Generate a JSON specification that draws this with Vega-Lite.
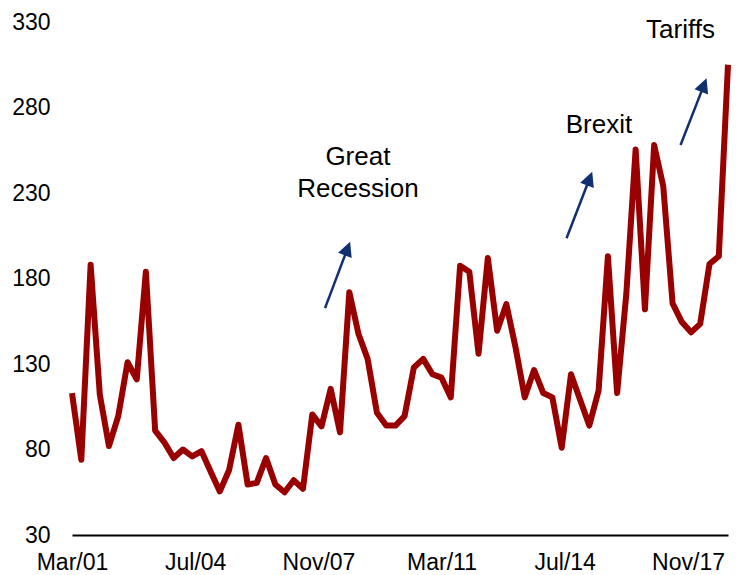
{
  "$schema": "https://vega.github.io/schema/vega-lite/v6.json",
  "autosize": {"type": "none"},
  "width": 656,
  "height": 513,
  "padding": {"left": 72, "top": 22, "right": 13, "bottom": 40},
  "background": "white",
  "config": {
    "view": {"stroke": null},
    "font": "Liberation Sans",
    "text": {"font": "Liberation Sans"}
  },
  "datasets": {
    "series": [
      {"date": "2001-03-01", "value": 113},
      {"date": "2001-06-01", "value": 74},
      {"date": "2001-09-01", "value": 188},
      {"date": "2001-12-01", "value": 112},
      {"date": "2002-03-01", "value": 82},
      {"date": "2002-06-01", "value": 99.5},
      {"date": "2002-09-01", "value": 131},
      {"date": "2002-12-01", "value": 121},
      {"date": "2003-03-01", "value": 184},
      {"date": "2003-06-01", "value": 91},
      {"date": "2003-09-01", "value": 84},
      {"date": "2003-12-01", "value": 75},
      {"date": "2004-03-01", "value": 80},
      {"date": "2004-06-01", "value": 76},
      {"date": "2004-09-01", "value": 79},
      {"date": "2004-12-01", "value": 67},
      {"date": "2005-03-01", "value": 55.5},
      {"date": "2005-06-01", "value": 68},
      {"date": "2005-09-01", "value": 94.5},
      {"date": "2005-12-01", "value": 59.5},
      {"date": "2006-03-01", "value": 60.5},
      {"date": "2006-06-01", "value": 75},
      {"date": "2006-09-01", "value": 59.5},
      {"date": "2006-12-01", "value": 55},
      {"date": "2007-03-01", "value": 62},
      {"date": "2007-06-01", "value": 57},
      {"date": "2007-09-01", "value": 100.5},
      {"date": "2007-12-01", "value": 93.5},
      {"date": "2008-03-01", "value": 115.5},
      {"date": "2008-06-01", "value": 90},
      {"date": "2008-09-01", "value": 172},
      {"date": "2008-12-01", "value": 147.5},
      {"date": "2009-03-01", "value": 133},
      {"date": "2009-06-01", "value": 101.5},
      {"date": "2009-09-01", "value": 94},
      {"date": "2009-12-01", "value": 94},
      {"date": "2010-03-01", "value": 99.5},
      {"date": "2010-06-01", "value": 128},
      {"date": "2010-09-01", "value": 133},
      {"date": "2010-12-01", "value": 124},
      {"date": "2011-03-01", "value": 122},
      {"date": "2011-06-01", "value": 110.5},
      {"date": "2011-09-01", "value": 187.5},
      {"date": "2011-12-01", "value": 184},
      {"date": "2012-03-01", "value": 136},
      {"date": "2012-06-01", "value": 192},
      {"date": "2012-09-01", "value": 149.5},
      {"date": "2012-12-01", "value": 165},
      {"date": "2013-03-01", "value": 140},
      {"date": "2013-06-01", "value": 110.5},
      {"date": "2013-09-01", "value": 126.5},
      {"date": "2013-12-01", "value": 113},
      {"date": "2014-03-01", "value": 110.5},
      {"date": "2014-06-01", "value": 81},
      {"date": "2014-09-01", "value": 124},
      {"date": "2014-12-01", "value": 109},
      {"date": "2015-03-01", "value": 94},
      {"date": "2015-06-01", "value": 114.5},
      {"date": "2015-09-01", "value": 193},
      {"date": "2015-12-01", "value": 113},
      {"date": "2016-03-01", "value": 171},
      {"date": "2016-06-01", "value": 255.5},
      {"date": "2016-09-01", "value": 162},
      {"date": "2016-12-01", "value": 258},
      {"date": "2017-03-01", "value": 234},
      {"date": "2017-06-01", "value": 165.5},
      {"date": "2017-09-01", "value": 154.5},
      {"date": "2017-12-01", "value": 148.5},
      {"date": "2018-03-01", "value": 153.5},
      {"date": "2018-06-01", "value": 188.5},
      {"date": "2018-09-01", "value": 193},
      {"date": "2018-12-01", "value": 305}
    ],
    "arrows": [
      {"tail_date": "2008-01-05", "tail_value": 162.7, "head_date": "2008-08-14", "head_value": 197.5},
      {"tail_date": "2014-07-19", "tail_value": 203.5, "head_date": "2015-03-04", "head_value": 238.5},
      {"tail_date": "2017-08-19", "tail_value": 258.1, "head_date": "2018-04-07", "head_value": 293.1}
    ],
    "labels": [
      {"date": "2008-11-25", "value": 246.4, "text": "Great"},
      {"date": "2008-11-25", "value": 227.8, "text": "Recession"},
      {"date": "2015-06-04", "value": 265.3, "text": "Brexit"},
      {"date": "2017-08-19", "value": 320.8, "text": "Tariffs"}
    ]
  },
  "layer": [
    {
      "data": {"name": "series"},
      "mark": {"type": "line", "color": "#990000", "strokeWidth": 6, "strokeJoin": "round", "strokeCap": "butt"},
      "encoding": {
        "x": {
          "field": "date",
          "type": "temporal",
          "scale": {
            "type": "utc",
            "domain": [
              {"year": 2001, "month": 3, "date": 1, "utc": true},
              {"year": 2018, "month": 12, "date": 1, "utc": true}
            ],
            "nice": false
          },
          "axis": {
            "title": null,
            "values": [
              {"year": 2001, "month": 3, "date": 1, "utc": true},
              {"year": 2004, "month": 7, "date": 1, "utc": true},
              {"year": 2007, "month": 11, "date": 1, "utc": true},
              {"year": 2011, "month": 3, "date": 1, "utc": true},
              {"year": 2014, "month": 7, "date": 1, "utc": true},
              {"year": 2017, "month": 11, "date": 1, "utc": true}
            ],
            "format": "%b/%y",
            "grid": false,
            "ticks": false,
            "domain": true,
            "domainColor": "#000000",
            "domainWidth": 2,
            "labelFont": "Liberation Sans",
            "labelFontSize": 23,
            "labelColor": "#000000",
            "labelPadding": 16,
            "labelFlush": false,
            "labelOverlap": false,
            "labelBound": false
          }
        },
        "y": {
          "field": "value",
          "type": "quantitative",
          "scale": {"domain": [30, 330], "nice": false, "zero": false},
          "axis": {
            "title": null,
            "values": [30, 80, 130, 180, 230, 280, 330],
            "grid": false,
            "ticks": false,
            "domain": false,
            "labelFont": "Liberation Sans",
            "labelFontSize": 23,
            "labelColor": "#000000",
            "labelPadding": 22,
            "labelOverlap": false,
            "labelBound": false,
            "labelFlush": false
          }
        }
      }
    },
    {
      "data": {"name": "arrows"},
      "mark": {"type": "rule", "color": "#10306F", "strokeWidth": 2.5},
      "encoding": {
        "x": {"field": "tail_date", "type": "temporal"},
        "y": {"field": "tail_value", "type": "quantitative"},
        "x2": {"field": "head_date"},
        "y2": {"field": "head_value"}
      }
    },
    {
      "data": {"name": "arrows"},
      "mark": {"type": "point", "shape": "M0,-1L1,1L-1,1Z", "filled": true, "color": "#10306F", "opacity": 1, "size": 213, "angle": 21, "strokeWidth": 0},
      "encoding": {
        "x": {"field": "head_date", "type": "temporal"},
        "y": {"field": "head_value", "type": "quantitative"}
      }
    },
    {
      "data": {"name": "labels"},
      "mark": {"type": "text", "font": "Liberation Sans", "fontSize": 26, "color": "#000000", "align": "center", "baseline": "alphabetic"},
      "encoding": {
        "x": {"field": "date", "type": "temporal"},
        "y": {"field": "value", "type": "quantitative"},
        "text": {"field": "text", "type": "nominal"}
      }
    }
  ]
}
